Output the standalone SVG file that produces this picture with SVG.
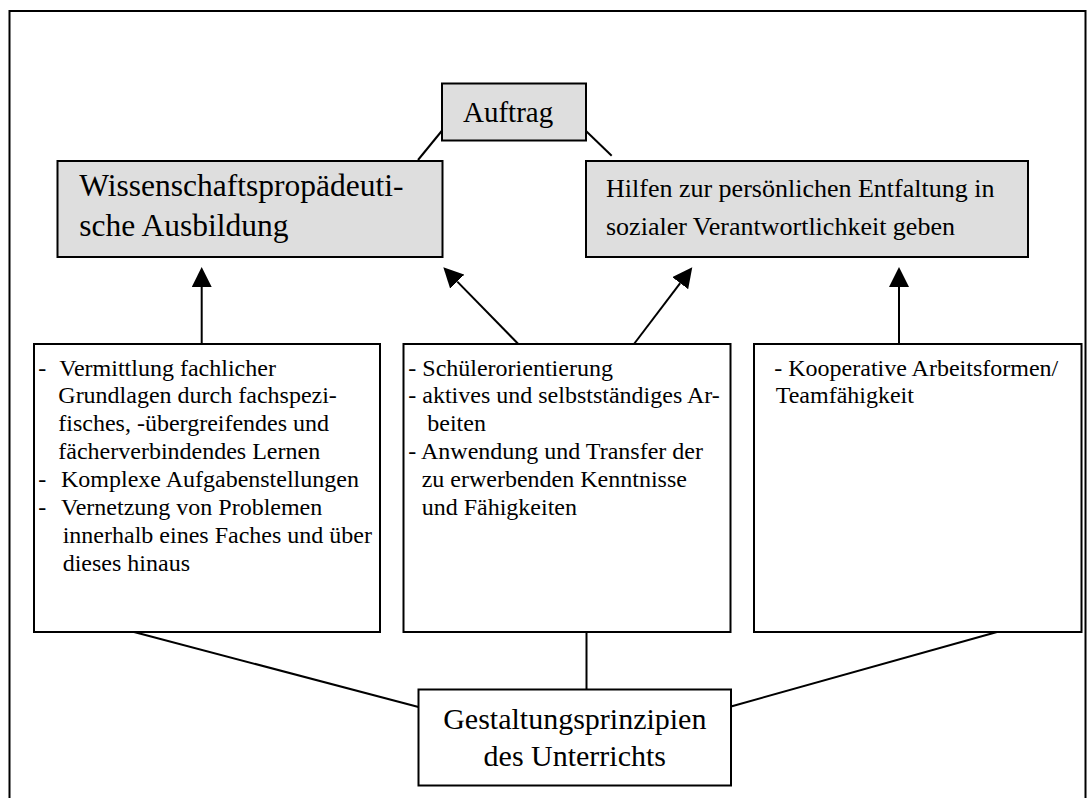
<svg xmlns="http://www.w3.org/2000/svg" width="1088" height="798" viewBox="0 0 1088 798">
<defs>
<style>
.box{stroke:#000;stroke-width:2;}
.gray{fill:#dedede;}
.white{fill:#fff;}
.t{font-family:"Liberation Serif","Times New Roman",serif;fill:#000;}
.s{font-size:24px;}
.con{stroke:#000;stroke-width:2;fill:none;}
</style>
<marker id="ah" viewBox="0 0 20 20" refX="0" refY="10" markerWidth="20" markerHeight="20" markerUnits="userSpaceOnUse" orient="auto">
<path d="M0,0 L20,10 L0,20 z" fill="#000"/>
</marker>
</defs>
<rect width="1088" height="798" fill="#fff"/>
<rect x="9.5" y="11" width="1076" height="800" fill="none" stroke="#000" stroke-width="2"/>

<g id="connectors">
<line class="con" x1="441.7" y1="131" x2="418" y2="160"/>
<line class="con" x1="586" y1="131" x2="611.7" y2="155.7"/>
<line class="con" x1="201.7" y1="344" x2="201.7" y2="287" marker-end="url(#ah)"/>
<line class="con" x1="518.3" y1="344" x2="457.3" y2="281.6" marker-end="url(#ah)"/>
<line class="con" x1="634" y1="344" x2="680.2" y2="283.2" marker-end="url(#ah)"/>
<line class="con" x1="899" y1="344" x2="899" y2="287" marker-end="url(#ah)"/>
<line class="con" x1="134" y1="632" x2="418.5" y2="707"/>
<line class="con" x1="586.5" y1="632" x2="586.5" y2="689"/>
<line class="con" x1="997" y1="632" x2="731" y2="706.5"/>
</g>

<g id="auftrag">
<rect class="box gray" x="442" y="83.5" width="144" height="57"/>
<text class="t" x="463" y="121.5" font-size="29">Auftrag</text>
</g>

<g id="wissenschaft">
<rect class="box gray" x="57.5" y="161" width="385" height="96"/>
<text class="t" x="79.3" y="196" font-size="31.5">Wissenschaftspropädeuti-</text>
<text class="t" x="79.3" y="236" font-size="31.5">sche Ausbildung</text>
</g>

<g id="hilfen">
<rect class="box gray" x="586" y="161" width="442" height="96"/>
<text class="t" x="606" y="197" font-size="26">Hilfen zur persönlichen Entfaltung in</text>
<text class="t" x="606" y="235" font-size="26">sozialer Verantwortlichkeit geben</text>
</g>

<g id="box-left">
<rect class="box white" x="34" y="344" width="346" height="288"/>
<text class="t s" x="38.3" y="375.5">-</text>
<text class="t s" x="59.3" y="375.5">Vermittlung fachlicher</text>
<text class="t s" x="58.3" y="403.4">Grundlagen durch fachspezi-</text>
<text class="t s" x="58.3" y="431.3">fisches, -übergreifendes und</text>
<text class="t s" x="58.3" y="459.2">fächerverbindendes Lernen</text>
<text class="t s" x="38.3" y="487.1">-</text>
<text class="t s" x="61" y="487.1">Komplexe Aufgabenstellungen</text>
<text class="t s" x="38.3" y="515">-</text>
<text class="t s" x="61" y="515">Vernetzung von Problemen</text>
<text class="t s" x="62.7" y="542.9">innerhalb eines Faches und über</text>
<text class="t s" x="62.7" y="570.8">dieses hinaus</text>
</g>

<g id="box-middle">
<rect class="box white" x="403.5" y="344" width="327" height="288"/>
<text class="t s" x="408.3" y="375.5">- Schülerorientierung</text>
<text class="t s" x="408.3" y="403.4">- aktives und selbstständiges Ar-</text>
<text class="t s" x="427.3" y="431.3">beiten</text>
<text class="t s" x="408.3" y="459.2">- Anwendung und Transfer der</text>
<text class="t s" x="421.7" y="487.1">zu erwerbenden Kenntnisse</text>
<text class="t s" x="421.7" y="515">und Fähigkeiten</text>
</g>

<g id="box-right">
<rect class="box white" x="754" y="344" width="327.5" height="288"/>
<text class="t s" x="774.3" y="375.5">- Kooperative Arbeitsformen/</text>
<text class="t s" x="775.7" y="403.4">Teamfähigkeit</text>
</g>

<g id="gestaltung">
<rect class="box white" x="418.5" y="689.5" width="312.5" height="96"/>
<text class="t" x="574.8" y="728.5" font-size="30" text-anchor="middle">Gestaltungsprinzipien</text>
<text class="t" x="574.8" y="765.5" font-size="30" text-anchor="middle">des Unterrichts</text>
</g>
</svg>
